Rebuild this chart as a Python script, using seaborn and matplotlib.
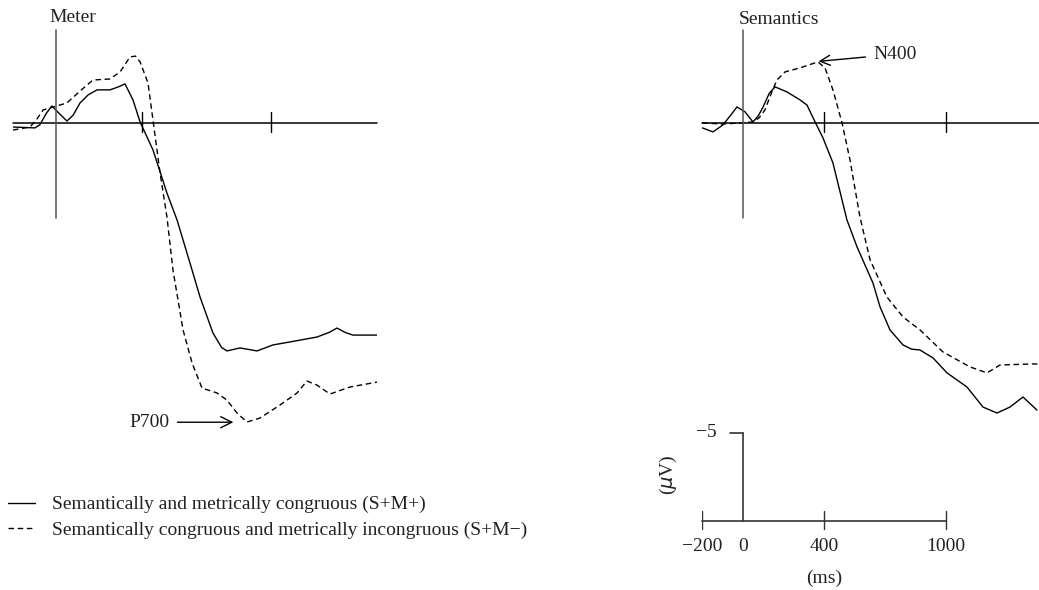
import numpy as np
import pandas as pd
import matplotlib.pyplot as plt
import seaborn as sns

# ERP waveforms: time in ms, amplitude in microvolts
# (negative is plotted upwards, as in the original)
COND_A = "Semantically and metrically congruous (S+M+)"
COND_B = "Semantically congruous and metrically incongruous (S+M\u2212)"

meter_t_a = [-200, -98, -75, -45, -19, 10, 51, 80, 112, 150, 191, 251, 290, 321, 358, 391,
             451, 516, 563, 623, 670, 730, 770, 795, 856, 935, 1009, 1088, 1214, 1270, 1307,
             1345, 1381, 1493]
meter_v_a = [0.23, 0.28, 0.10, -0.55, -0.97, -0.60, -0.11, -0.45, -1.14, -1.60, -1.88, -1.88,
             -2.05, -2.22, -1.31, -0.06, 1.53, 3.98, 5.51, 7.95, 9.89, 11.93, 12.75, 12.95,
             12.78, 12.95, 12.61, 12.44, 12.16, 11.90, 11.65, 11.90, 12.05, 12.05]

meter_t_b = [-200, -121, -90, -60, 5, 51, 120, 172, 251, 298, 344, 370, 391, 428, 451, 484,
             516, 544, 591, 633, 679, 749, 795, 842, 888, 949, 1042, 1121, 1167, 1214, 1274,
             1367, 1493]
meter_v_b = [0.40, 0.23, -0.20, -0.74, -0.97, -1.14, -1.90, -2.44, -2.50, -2.90, -3.75, -3.80,
             -3.47, -2.27, -0.17, 2.84, 5.34, 8.35, 11.76, 13.64, 15.06, 15.34, 15.74, 16.48,
             16.99, 16.76, 16.02, 15.34, 14.66, 14.89, 15.40, 15.00, 14.72]

sem_t_a = [-200, -148, -99, -60, -30, 10, 49, 75, 99, 130, 158, 217, 281, 315, 355, 394,
           443, 512, 562, 640, 675, 724, 788, 830, 872, 936, 1005, 1103, 1182, 1251, 1315,
           1379, 1448]
sem_v_a = [0.28, 0.51, 0.11, -0.45, -0.91, -0.63, -0.06, -0.40, -0.91, -1.70, -2.05, -1.76,
           -1.31, -1.02, -0.06, 0.85, 2.27, 5.51, 7.05, 9.09, 10.45, 11.76, 12.61, 12.85,
           12.90, 13.35, 14.20, 15.00, 16.14, 16.48, 16.14, 15.57, 16.31]

sem_t_b = [-200, -99, -15, 49, 80, 108, 140, 167, 207, 281, 369, 404, 443, 488, 527, 576, 626,
           709, 788, 872, 985, 1118, 1202, 1266, 1429, 1458]
sem_v_b = [0.00, 0.06, 0.00, -0.06, -0.30, -0.74, -1.70, -2.44, -2.90, -3.13, -3.47, -3.13,
           -1.88, 0.00, 2.10, 5.34, 7.78, 9.89, 11.02, 11.76, 13.01, 13.86, 14.20, 13.75,
           13.69, 13.70]

panel_ticks = [400, 1000]
scale_ticks = [-200, 0, 400, 1000]
scale_labels = ["\u2212200", "0", "400", "1000"]
scale_uv = -5

INK = "#222222"
AXIS = "#333333"


def to_frame(t_a, v_a, t_b, v_b):
    a = pd.DataFrame({"t": t_a, "v": v_a, "cond": COND_A})
    b = pd.DataFrame({"t": t_b, "v": v_b, "cond": COND_B})
    return pd.concat([a, b], ignore_index=True)


def draw_panel(ax, df, xmin, xmax):
    sns.lineplot(data=df, x="t", y="v", style="cond", estimator=None, sort=True,
                 color="black", linewidth=1.0, legend=False,
                 dashes={COND_A: "", COND_B: (4.0, 2.6)}, ax=ax)
    # zero line, ticks and the stimulus-onset axis
    ax.plot([xmin, xmax], [0, 0], color="black", lw=1.1, clip_on=False)
    ax.plot([0, 0], [-5.3, 5.4], color="#555555", lw=1.1, clip_on=False)
    for t in panel_ticks:
        ax.plot([t, t], [-0.6, 0.5], color="black", lw=1.0)
    ax.axis("off")


sns.set_theme(style="white")
plt.rcParams["font.family"] = ["Liberation Serif", "DejaVu Serif"]

fig = plt.figure(figsize=(10.39, 5.90), dpi=100)
W, H = 1039, 590

ax_l = fig.add_axes([13 / W, 1 - 440 / H, 364 / W, 420 / H])
ax_l.set_xlim(-200, 1493)
ax_l.set_ylim(18.01, -5.85)
draw_panel(ax_l, to_frame(meter_t_a, meter_v_a, meter_t_b, meter_v_b), -200, 1493)
ax_l.text(-30, -6.0, "Meter", fontsize=14, color=INK, ha="left", va="center")
ax_l.annotate("P700", xy=(825, 17.0), xytext=(530, 17.0), fontsize=14, color=INK,
              ha="right", va="center",
              arrowprops=dict(arrowstyle="->", color="black", lw=1.0,
                              shrinkA=3, shrinkB=0, mutation_scale=20))

ax_r = fig.add_axes([702.4 / W, 1 - 560 / H, (W - 702.4) / W, 540 / H])
ax_r.set_xlim(-200, 1458)
ax_r.set_ylim(24.83, -5.85)
draw_panel(ax_r, to_frame(sem_t_a, sem_v_a, sem_t_b, sem_v_b), -200, 1458)
ax_r.text(-20, -5.9, "Semantics", fontsize=14, color=INK, ha="left", va="center")
ax_r.annotate("N400", xy=(372, -3.5), xytext=(640, -3.9), fontsize=14, color=INK,
              ha="left", va="center",
              arrowprops=dict(arrowstyle="->", color="black", lw=1.0,
                              shrinkA=3, shrinkB=0, mutation_scale=18))

# calibration bar
base = 22.6
ax_r.plot([scale_ticks[0], scale_ticks[-1]], [base, base], color=AXIS, lw=1.2, clip_on=False)
ax_r.plot([0, 0], [base, base + scale_uv], color=AXIS, lw=1.2)
ax_r.plot([-65, 0], [base + scale_uv, base + scale_uv], color=AXIS, lw=1.2)
for t, lab in zip(scale_ticks, scale_labels):
    if t != 0:
        ax_r.plot([t, t], [base - 0.55, base + 0.45], color=AXIS, lw=1.0)
    ax_r.text(t, base + 1.45, lab, fontsize=14, color=INK, ha="center", va="center")
ax_r.text(-180, base + scale_uv, "\u22125", fontsize=14, color=INK, ha="center", va="center")
ax_r.text(400, base + 3.3, "(ms)", fontsize=14, color=INK, ha="center", va="center")
ax_r.text(-365, base - 2.6, "($\\mu$V)", fontsize=14, color=INK, rotation=90,
          ha="center", va="center")

handles = ax_l.get_lines()[:2]
fig.legend(handles, [COND_A, COND_B], loc="upper left", bbox_to_anchor=(0.0, 1 - 488 / H),
           frameon=False, fontsize=14, handlelength=1.4, handletextpad=0.85,
           labelspacing=0.42, borderaxespad=0.0, labelcolor=INK)

fig.savefig("out.png", dpi=100)
